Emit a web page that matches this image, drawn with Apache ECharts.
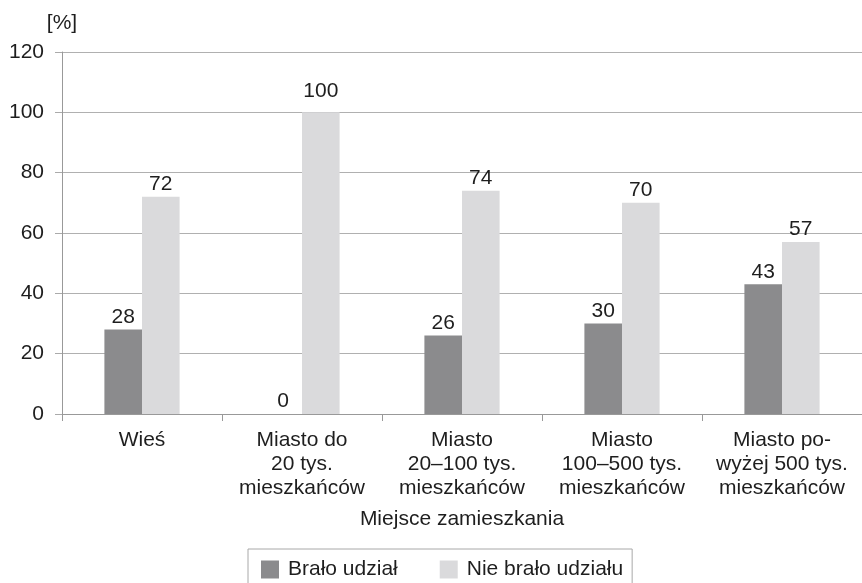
<!DOCTYPE html>
<html>
<head>
<meta charset="utf-8">
<script src="https://cdn.jsdelivr.net/npm/echarts@6/dist/echarts.min.js"></script>
<style>html,body{margin:0;padding:0;background:#fff}#c{width:862px;height:583px}</style>
</head>
<body>
<div id="c"></div>
<script>
const categories = ["Wieś", "Miasto do\n20 tys.\nmieszkańców", "Miasto\n20–100 tys.\nmieszkańców", "Miasto\n100–500 tys.\nmieszkańców", "Miasto po-\nwyżej 500 tys.\nmieszkańców"];
const seriesNames = ["Brało udział", "Nie brało udziału"];
const tookPart = [28, 0, 26, 30, 43];
const didNotTakePart = [72, 100, 74, 70, 57];
const yTicks = [0, 20, 40, 60, 80, 100, 120];
const xTitle = "Miejsce zamieszkania";
const yTitle = "[%]";

const FONT = "'Liberation Sans', Arial, sans-serif";
const TXT = "#1e1e1e";
const FS = 21;
const yMax = yTicks[yTicks.length - 1];
function withLabels(values) {
  // labels sitting on a gridline are lifted a little, as in the original
  return values.map(v => (v > 0 && v % 20 === 0 && v >= 100) ? {value: v, label: {distance: 11}} : v);
}
const chart = echarts.init(document.getElementById('c'), null, {renderer: 'canvas'});
chart.setOption({
  animation: false,
  backgroundColor: '#fff',
  textStyle: {fontFamily: FONT, color: TXT},
  grid: {left: 62, top: 52, width: 810, height: 362, containLabel: false},
  legend: {
    left: 248, top: 549,
    padding: [10, 9, 20, 13],
    borderColor: '#a8a8a8', borderWidth: 1,
    itemWidth: 18, itemHeight: 18, itemGap: 42,
    icon: 'rect',
    textStyle: {fontFamily: FONT, fontSize: FS, color: TXT, padding: [0, 0, 0, 4]},
    data: seriesNames
  },
  xAxis: {
    type: 'category',
    data: categories,
    name: xTitle,
    nameLocation: 'middle',
    nameGap: 95,
    nameTextStyle: {fontFamily: FONT, fontSize: FS, color: TXT},
    axisLine: {lineStyle: {color: '#999', width: 1}},
    axisTick: {show: true, length: 7, lineStyle: {color: '#999'}},
    axisLabel: {fontFamily: FONT, fontSize: FS, color: TXT, lineHeight: 24, margin: 14, interval: 0}
  },
  yAxis: {
    type: 'value',
    min: yTicks[0], max: yMax, interval: 20,
    name: yTitle,
    nameLocation: 'end',
    nameGap: 18,
    nameTextStyle: {fontFamily: FONT, fontSize: FS, color: TXT, align: 'center'},
    axisLine: {show: true, lineStyle: {color: '#999', width: 1}},
    axisTick: {show: true, length: 7, lineStyle: {color: '#aaa'}},
    splitLine: {lineStyle: {color: '#b0b0b0', width: 1}},
    axisLabel: {fontFamily: FONT, fontSize: FS, color: TXT, margin: 18}
  },
  series: [
    {
      name: seriesNames[0], type: 'bar', data: withLabels(tookPart),
      barGap: '0%', barCategoryGap: '53%',
      itemStyle: {color: '#8b8b8d'},
      label: {show: true, position: 'top', distance: 2, fontFamily: FONT, fontSize: FS, color: TXT}
    },
    {
      name: seriesNames[1], type: 'bar', data: withLabels(didNotTakePart),
      barGap: '0%', barCategoryGap: '53%',
      itemStyle: {color: '#dadadc'},
      label: {show: true, position: 'top', distance: 2, fontFamily: FONT, fontSize: FS, color: TXT}
    }
  ]
});
</script>
</body>
</html>
